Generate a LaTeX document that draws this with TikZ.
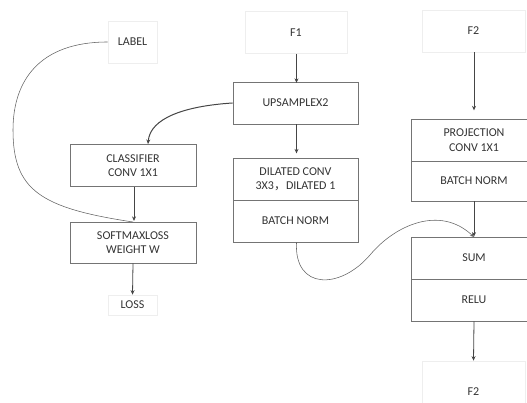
\documentclass[tikz,border=0pt]{standalone}
\usepackage{fontspec}
\setmainfont{Carlito}
\newfontfamily\cjk{Noto Sans CJK SC}
\usetikzlibrary{arrows.meta}
\definecolor{boxline}{HTML}{747474}
\definecolor{faintline}{HTML}{EEEEEE}
\definecolor{ink}{HTML}{333333}
\definecolor{wire}{HTML}{454545}
\tikzset{
  blk/.style={draw=boxline, line width=0.8pt, text=ink, align=center,
    inner sep=0pt, font=\fontsize{12}{14.5}\selectfont},
  ghost/.style={draw=faintline, line width=0.7pt, text=ink, align=center,
    inner sep=0pt, font=\fontsize{12}{14.5}\selectfont},
  flow/.style={draw=wire, line width=0.8pt, -{Stealth[length=4.5pt,width=4pt]}},
  thinwire/.style={draw=boxline!85!black, line width=0.55pt},
}
\begin{document}
\begin{tikzpicture}[x=1pt,y=-1pt]
\useasboundingbox (0,0) rectangle (527,403);
\clip (0,0) rectangle (527,403);

% left column: classifier branch
\node[ghost, minimum width=49, minimum height=42] (label) at (132.5,42) {LABEL};
\node[blk, minimum width=126, minimum height=42] (cls) at (133,165.5) {CLASSIFIER\\CONV 1X1};
\node[blk, minimum width=126, minimum height=41] (smx) at (133,242.5) {SOFTMAXLOSS\\WEIGHT W};
\node[ghost, minimum width=49, minimum height=20] (loss) at (132.5,305) {LOSS};

% middle column: F1 path
\node[ghost, minimum width=102, minimum height=42] (f1) at (296,32.5) {F1};
\node[blk, minimum width=125, minimum height=42] (up) at (295.5,103) {UPSAMPLEX2};
\node[blk, minimum width=125, minimum height=42] (dil) at (295.5,179) {DILATED CONV\\3X3{\cjk ，}DILATED 1};
\node[blk, minimum width=125, minimum height=42] (bna) at (295.5,221) {BATCH NORM};

% right column: F2 path
\node[ghost, minimum width=103, minimum height=42] (f2in) at (473.5,31) {F2};
\node[blk, minimum width=125, minimum height=42] (proj) at (474,140) {PROJECTION\\CONV 1X1};
\node[blk, minimum width=125, minimum height=40] (bnb) at (474,181) {BATCH NORM};
\node[blk, minimum width=125, minimum height=42] (sum) at (474,258) {SUM};
\node[blk, minimum width=125, minimum height=42] (relu) at (474,300) {RELU};
\node[ghost, minimum width=103, minimum height=62] (f2out) at (473.5,392) {F2};

% anchor points for the curved links
\coordinate (clsin) at (148,144);
\coordinate (smxin) at (133,222);
\coordinate (sumin) at (474,237);

% straight links
\draw[flow] (f1.south) ++(0.5,0) -- ++(0,29);
\draw[flow] (up.south) ++(1,0) -- ++(0,29);
\draw[flow] (f2in.south) ++(0.5,0) -- ++(0,58);
\draw[flow] (cls.south) ++(1,0) -- ++(0,34);
\draw[flow] (smx.south) -- (loss.north);
\draw[flow] (bnb.south) -- (sum.north);
\draw[flow] (relu.south) -- (f2out.north);

% curved links
\draw[flow, line width=1pt] (up.west) .. controls (185,106) and (150,118) .. (clsin);
\draw[thinwire] (label.west) .. controls (40,42) and (13,80) .. (13,130)
  .. controls (13,190) and (40,208) .. (smxin);
\draw[thinwire, -{Stealth[length=4pt,width=3.5pt]}] (bna.south) ++(1,0)
  .. controls (294,290) and (340,290) .. (370,255)
  .. controls (395,225) and (440,205) .. (sumin);
\end{tikzpicture}
\end{document}
